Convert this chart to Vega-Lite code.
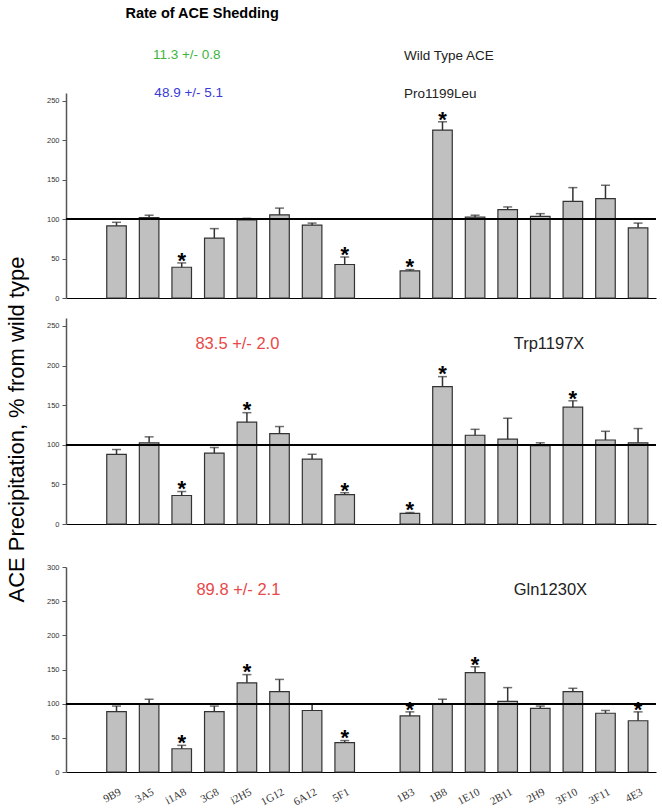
{
  "$schema": "https://vega.github.io/schema/vega-lite/v6.json",
  "background": "white",
  "padding": {"left": 5, "top": 5, "right": 5, "bottom": 5},
  "title": {"text": "Rate of ACE Shedding", "anchor": "start", "dx": 120, "fontSize": 14.5, "fontWeight": "bold", "font": "Liberation Sans", "color": "#000", "offset": 27},
  "config": {
    "view": {"stroke": null},
    "font": "Liberation Sans",
    "axisY": {"domainColor": "#555", "domainWidth": 1.5, "tickColor": "#555", "tickSize": 4, "labelFontSize": 7.5, "labelPadding": 3, "labelColor": "#333", "labelOverlap": false, "grid": false, "titleFontSize": 22, "titleFontWeight": "normal", "titleColor": "#000", "titlePadding": 18, "titleFont": "Liberation Sans"},
    "axisX": {"domainColor": "#000", "domainWidth": 1.2, "ticks": false, "grid": false}
  },
  "spacing": 9.5,
  "bounds": "flush",
  "datasets": {
    "p1": [
      {"g": "9B9", "v": 91.5, "e": 96, "s": 0},
      {"g": "3A5", "v": 102, "e": 105, "s": 0},
      {"g": "i1A8", "v": 39, "e": 44.5, "s": 1},
      {"g": "3G8", "v": 76, "e": 88, "s": 0},
      {"g": "i2H5", "v": 99, "e": 101, "s": 0},
      {"g": "1G12", "v": 105.5, "e": 114, "s": 0},
      {"g": "6A12", "v": 92.5, "e": 95, "s": 0},
      {"g": "5F1", "v": 42.5, "e": 52, "s": 1},
      {"g": "1B3", "v": 34.5, "e": 36, "s": 1},
      {"g": "1B8", "v": 213, "e": 223.5, "s": 1},
      {"g": "1E10", "v": 102.5, "e": 105, "s": 0},
      {"g": "2B11", "v": 112, "e": 115.5, "s": 0},
      {"g": "2H9", "v": 103.5, "e": 107, "s": 0},
      {"g": "3F10", "v": 122.5, "e": 140, "s": 0},
      {"g": "3F11", "v": 126, "e": 143, "s": 0},
      {"g": "4E3", "v": 89, "e": 95, "s": 0}
    ],
    "p2": [
      {"g": "9B9", "v": 88, "e": 94, "s": 0},
      {"g": "3A5", "v": 102.5, "e": 110, "s": 0},
      {"g": "i1A8", "v": 36, "e": 41, "s": 1},
      {"g": "3G8", "v": 89.5, "e": 96.5, "s": 0},
      {"g": "i2H5", "v": 128.5, "e": 140.5, "s": 1},
      {"g": "1G12", "v": 114, "e": 123, "s": 0},
      {"g": "6A12", "v": 82, "e": 88, "s": 0},
      {"g": "5F1", "v": 37, "e": 39.5, "s": 1},
      {"g": "1B3", "v": 13.5, "e": 14.5, "s": 1},
      {"g": "1B8", "v": 173.5, "e": 186, "s": 1},
      {"g": "1E10", "v": 112, "e": 119.5, "s": 0},
      {"g": "2B11", "v": 107, "e": 133.5, "s": 0},
      {"g": "2H9", "v": 99, "e": 102.5, "s": 0},
      {"g": "3F10", "v": 147.5, "e": 155.5, "s": 1},
      {"g": "3F11", "v": 106, "e": 117, "s": 0},
      {"g": "4E3", "v": 102.5, "e": 120.5, "s": 0}
    ],
    "p3": [
      {"g": "9B9", "v": 88.5, "e": 96.5, "s": 0},
      {"g": "3A5", "v": 100, "e": 106.5, "s": 0},
      {"g": "i1A8", "v": 34, "e": 39, "s": 1},
      {"g": "3G8", "v": 88.5, "e": 96.5, "s": 0},
      {"g": "i2H5", "v": 130.5, "e": 142.5, "s": 1},
      {"g": "1G12", "v": 117.5, "e": 135.5, "s": 0},
      {"g": "6A12", "v": 90, "e": 99.5, "s": 0},
      {"g": "5F1", "v": 43, "e": 46, "s": 1},
      {"g": "1B3", "v": 82, "e": 88, "s": 1},
      {"g": "1B8", "v": 99.5, "e": 106.5, "s": 0},
      {"g": "1E10", "v": 145.5, "e": 154, "s": 1},
      {"g": "2B11", "v": 103.5, "e": 123.5, "s": 0},
      {"g": "2H9", "v": 93, "e": 96.5, "s": 0},
      {"g": "3F10", "v": 117.5, "e": 122.5, "s": 0},
      {"g": "3F11", "v": 86, "e": 90, "s": 0},
      {"g": "4E3", "v": 75, "e": 88, "s": 1}
    ]
  },
  "vconcat": [
    {
      "width": 590, "height": 205,
      "data": {"name": "p1"},
      "layer": [
        {"mark": {"type": "bar", "fill": "#c0c0c0", "stroke": "#333", "strokeWidth": 1.2},
         "encoding": {
           "x": {"field": "g", "type": "nominal", "title": null, "scale": {"domain": ["_a","9B9","3A5","i1A8","3G8","i2H5","1G12","6A12","5F1","_b","1B3","1B8","1E10","2B11","2H9","3F10","3F11","4E3"], "paddingInner": 0.4, "paddingOuter": 0.25}, "axis": {"labels": false, "ticks": false}},
           "y": {"field": "v", "type": "quantitative", "title": null, "scale": {"domain": [0, 250]}, "axis": {"values": [0, 50, 100, 150, 200, 250]}}}},
        {"mark": {"type": "rule", "color": "#333", "strokeWidth": 1.5},
         "encoding": {"x": {"field": "g", "type": "nominal"}, "y": {"field": "v", "type": "quantitative", "title": null}, "y2": {"field": "e"}}},
        {"mark": {"type": "tick", "color": "#333", "thickness": 1.5, "size": 9},
         "encoding": {"x": {"field": "g", "type": "nominal"}, "y": {"field": "e", "type": "quantitative", "title": null}}},
        {"transform": [{"filter": "datum.s == 1"}],
         "mark": {"type": "text", "text": "*", "fontSize": 22, "fontWeight": "bold", "color": "#000", "baseline": "alphabetic", "dy": 4.8},
         "encoding": {"x": {"field": "g", "type": "nominal"}, "y": {"field": "e", "type": "quantitative", "title": null}}},
        {"mark": {"type": "rule", "color": "#000", "strokeWidth": 1.2},
         "encoding": {"y": {"datum": 100}}},
        {"data": {"values": [{"g": "i1A8", "y": 308, "t": "11.3 +/- 0.8"}]},
         "mark": {"type": "text", "color": "#3cb43c", "fontSize": 13.5, "baseline": "middle", "align": "center", "dx": 5},
         "encoding": {"x": {"field": "g", "type": "nominal"}, "y": {"field": "y", "type": "quantitative", "title": null}, "text": {"field": "t"}}},
        {"data": {"values": [{"g": "i1A8", "y": 260, "t": "48.9 +/- 5.1"}]},
         "mark": {"type": "text", "color": "#3a3ad8", "fontSize": 13.5, "baseline": "middle", "align": "center", "dx": 7},
         "encoding": {"x": {"field": "g", "type": "nominal"}, "y": {"field": "y", "type": "quantitative", "title": null}, "text": {"field": "t"}}},
        {"data": {"values": [{"g": "1B3", "y": 307, "t": "Wild Type ACE"}, {"g": "1B3", "y": 259, "t": "Pro1199Leu"}]},
         "mark": {"type": "text", "color": "#222", "fontSize": 13.5, "baseline": "middle", "align": "left", "dx": -6},
         "encoding": {"x": {"field": "g", "type": "nominal"}, "y": {"field": "y", "type": "quantitative", "title": null}, "text": {"field": "t"}}}
      ]
    },
    {
      "width": 590, "height": 1,
      "data": {"values": [{}]},
      "mark": {"type": "point", "opacity": 0}
    },
    {
      "width": 590, "height": 206,
      "data": {"name": "p2"},
      "layer": [
        {"mark": {"type": "bar", "fill": "#c0c0c0", "stroke": "#333", "strokeWidth": 1.2},
         "encoding": {
           "x": {"field": "g", "type": "nominal", "title": null, "scale": {"domain": ["_a","9B9","3A5","i1A8","3G8","i2H5","1G12","6A12","5F1","_b","1B3","1B8","1E10","2B11","2H9","3F10","3F11","4E3"], "paddingInner": 0.4, "paddingOuter": 0.25}, "axis": {"labels": false, "ticks": false}},
           "y": {"field": "v", "type": "quantitative", "title": "ACE Precipitation, % from wild type", "scale": {"domain": [0, 250]}, "axis": {"values": [0, 50, 100, 150, 200, 250], "titleY": 111}}}},
        {"mark": {"type": "rule", "color": "#333", "strokeWidth": 1.5},
         "encoding": {"x": {"field": "g", "type": "nominal"}, "y": {"field": "v", "type": "quantitative", "title": "ACE Precipitation, % from wild type"}, "y2": {"field": "e"}}},
        {"mark": {"type": "tick", "color": "#333", "thickness": 1.5, "size": 9},
         "encoding": {"x": {"field": "g", "type": "nominal"}, "y": {"field": "e", "type": "quantitative", "title": "ACE Precipitation, % from wild type"}}},
        {"transform": [{"filter": "datum.s == 1"}],
         "mark": {"type": "text", "text": "*", "fontSize": 22, "fontWeight": "bold", "color": "#000", "baseline": "alphabetic", "dy": 4.8},
         "encoding": {"x": {"field": "g", "type": "nominal"}, "y": {"field": "e", "type": "quantitative", "title": "ACE Precipitation, % from wild type"}}},
        {"mark": {"type": "rule", "color": "#000", "strokeWidth": 1.2},
         "encoding": {"y": {"datum": 100}}},
        {"data": {"values": [{"g": "i2H5", "y": 227.5, "t": "83.5 +/- 2.0"}]},
         "mark": {"type": "text", "color": "#e84848", "fontSize": 16.5, "baseline": "middle", "align": "center", "dx": -9.5},
         "encoding": {"x": {"field": "g", "type": "nominal"}, "y": {"field": "y", "type": "quantitative", "title": "ACE Precipitation, % from wild type"}, "text": {"field": "t"}}},
        {"data": {"values": [{"g": "2B11", "y": 227.5, "t": "Trp1197X"}]},
         "mark": {"type": "text", "color": "#222", "fontSize": 16.5, "baseline": "middle", "align": "left", "dx": 6},
         "encoding": {"x": {"field": "g", "type": "nominal"}, "y": {"field": "y", "type": "quantitative", "title": "ACE Precipitation, % from wild type"}, "text": {"field": "t"}}}
      ]
    },
    {
      "width": 590, "height": 24,
      "data": {"values": [{}]},
      "mark": {"type": "point", "opacity": 0}
    },
    {
      "width": 590, "height": 205,
      "data": {"name": "p3"},
      "layer": [
        {"mark": {"type": "bar", "fill": "#c0c0c0", "stroke": "#333", "strokeWidth": 1.2},
         "encoding": {
           "x": {"field": "g", "type": "nominal", "title": null, "scale": {"domain": ["_a","9B9","3A5","i1A8","3G8","i2H5","1G12","6A12","5F1","_b","1B3","1B8","1E10","2B11","2H9","3F10","3F11","4E3"], "paddingInner": 0.4, "paddingOuter": 0.25},
             "axis": {"ticks": false, "labelAngle": -28, "labelAlign": "right", "labelBaseline": "middle", "labelPadding": 19, "labelOffset": 4, "labelFont": "Liberation Serif", "labelFontSize": 11, "labelColor": "#333", "labelExpr": "indexof(datum.value, '_') == 0 ? '' : datum.value"}},
           "y": {"field": "v", "type": "quantitative", "title": null, "scale": {"domain": [0, 300]}, "axis": {"values": [0, 50, 100, 150, 200, 250, 300], "labelOverlap": false, "tickCount": 7}}}},
        {"mark": {"type": "rule", "color": "#333", "strokeWidth": 1.5},
         "encoding": {"x": {"field": "g", "type": "nominal"}, "y": {"field": "v", "type": "quantitative", "title": null, "axis": {"values": [0, 50, 100, 150, 200, 250, 300], "labelOverlap": false, "tickCount": 7}}, "y2": {"field": "e"}}},
        {"mark": {"type": "tick", "color": "#333", "thickness": 1.5, "size": 9},
         "encoding": {"x": {"field": "g", "type": "nominal"}, "y": {"field": "e", "type": "quantitative", "title": null, "axis": {"values": [0, 50, 100, 150, 200, 250, 300], "labelOverlap": false, "tickCount": 7}}}},
        {"transform": [{"filter": "datum.s == 1"}],
         "mark": {"type": "text", "text": "*", "fontSize": 22, "fontWeight": "bold", "color": "#000", "baseline": "alphabetic", "dy": 4.8},
         "encoding": {"x": {"field": "g", "type": "nominal"}, "y": {"field": "e", "type": "quantitative", "title": null, "axis": {"values": [0, 50, 100, 150, 200, 250, 300], "labelOverlap": false, "tickCount": 7}}}},
        {"mark": {"type": "rule", "color": "#000", "strokeWidth": 1.2},
         "encoding": {"y": {"datum": 100, "axis": {"values": [0, 50, 100, 150, 200, 250, 300], "labelOverlap": false, "tickCount": 7}}}},
        {"data": {"values": [{"g": "i2H5", "y": 266, "t": "89.8 +/- 2.1"}]},
         "mark": {"type": "text", "color": "#e84848", "fontSize": 16.5, "baseline": "middle", "align": "center", "dx": -8.5},
         "encoding": {"x": {"field": "g", "type": "nominal"}, "y": {"field": "y", "type": "quantitative", "title": null, "axis": {"values": [0, 50, 100, 150, 200, 250, 300], "labelOverlap": false, "tickCount": 7}}, "text": {"field": "t"}}},
        {"data": {"values": [{"g": "2B11", "y": 266, "t": "Gln1230X"}]},
         "mark": {"type": "text", "color": "#222", "fontSize": 16.5, "baseline": "middle", "align": "left", "dx": 6},
         "encoding": {"x": {"field": "g", "type": "nominal"}, "y": {"field": "y", "type": "quantitative", "title": null, "axis": {"values": [0, 50, 100, 150, 200, 250, 300], "labelOverlap": false, "tickCount": 7}}, "text": {"field": "t"}}}
      ]
    }
  ]
}
